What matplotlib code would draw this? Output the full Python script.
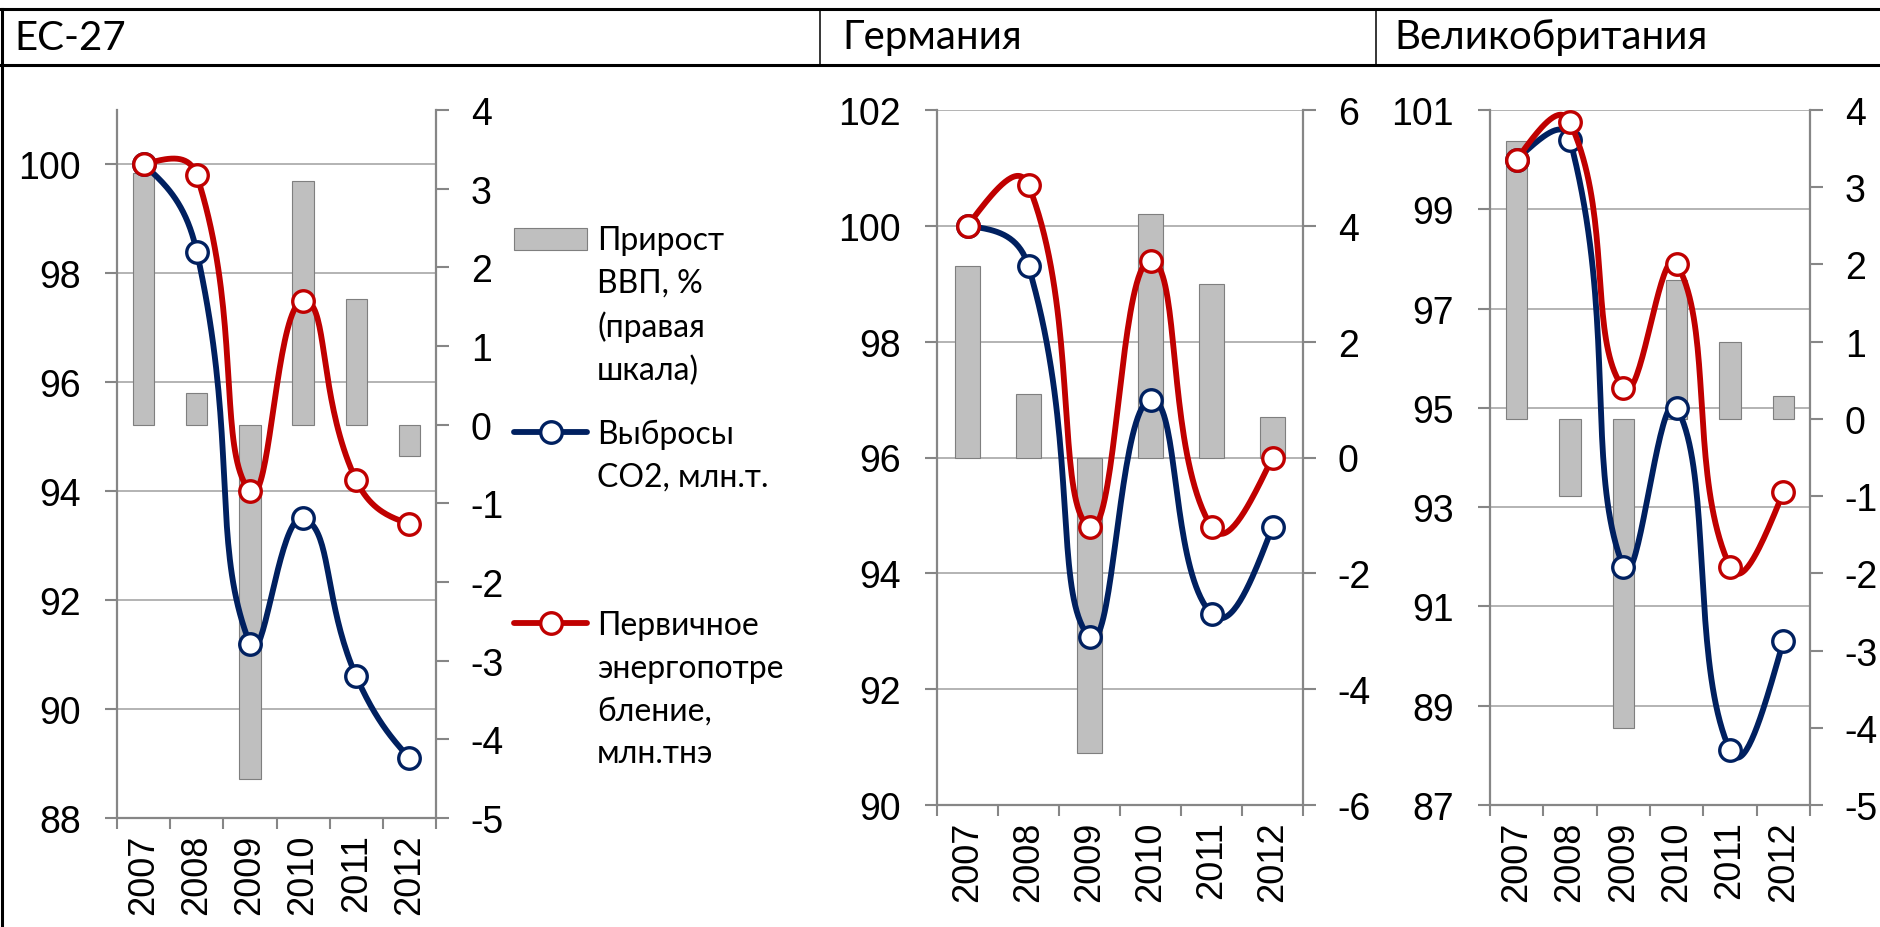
import matplotlib
matplotlib.use('Agg')
import matplotlib.pyplot as plt
import numpy as np
from matplotlib.legend_handler import HandlerPatch, HandlerLine2D
from matplotlib.lines import Line2D

plt.rcParams['font.family'] = ['Liberation Sans Narrow', 'Liberation Sans', 'DejaVu Sans']
plt.rcParams['axes.unicode_minus'] = False

# values
years = ['2007', '2008', '2009', '2010', '2011', '2012']
titles = ['ЕС-27', 'Германия', 'Великобритания']

gdp_eu = [3.2, 0.4, -4.5, 3.1, 1.6, -0.4]
co2_eu = [100.0, 98.4, 91.2, 93.5, 90.6, 89.1]
energy_eu = [100.0, 99.8, 94.0, 97.5, 94.2, 93.4]

gdp_de = [3.3, 1.1, -5.1, 4.2, 3.0, 0.7]
co2_de = [100.0, 99.3, 92.9, 97.0, 93.3, 94.8]
energy_de = [100.0, 100.7, 94.8, 99.4, 94.8, 96.0]

gdp_uk = [3.6, -1.0, -4.0, 1.8, 1.0, 0.3]
co2_uk = [100.0, 100.4, 91.8, 95.0, 88.1, 90.3]
energy_uk = [100.0, 100.75, 95.4, 97.9, 91.8, 93.3]

legend_labels = ['Прирост\nВВП, %\n(правая\nшкала)',
                 'Выбросы\nСО2, млн.т.\n\n',
                 'Первичное\nэнергопотре\nбление,\nмлн.тнэ']

# axis scales: (min, max, step)
left_scales = [(88, 101, 2), (90, 102, 2), (87, 101, 2)]
right_scales = [(-5, 4, 1), (-6, 6, 2), (-5, 4, 1)]

NAVY = '#002060'
RED = '#C00000'
BAR = '#BFBFBF'
BAR_EDGE = '#7F7F7F'
AXIS = '#868686'
GRID = '#AEAEAE'
TEXT_FONT = ['Lato', 'Open Sans', 'DejaVu Sans']
STEPS = 40
LIFT = 2.1

W, H = 1880, 928
# plot boxes in pixels: left, right, top, bottom
boxes = [(117, 436, 111, 819), (937, 1303, 111, 806), (1490, 1810, 111, 806)]
title_x = [14, 842, 1394]


def excel_smooth(ax, values, tension=0.5):
    # bezier smoothing similar to Excel's "smoothed line", done in screen space
    pts = ax.transData.transform(np.column_stack([np.arange(len(values)), values]))
    n = len(pts)
    out_c = pts.copy()
    in_c = pts.copy()
    for i in range(1, n - 1):
        d = pts[i + 1] - pts[i - 1]
        a = np.hypot(*(pts[i] - pts[i - 1]))
        b = np.hypot(*(pts[i + 1] - pts[i]))
        in_c[i] = pts[i] - d * tension * a / (a + b)
        out_c[i] = pts[i] + d * tension * b / (a + b)
    out_c[0] = (pts[0] + in_c[1]) / 2
    in_c[-1] = (pts[-1] + out_c[-2]) / 2
    t = np.linspace(0, 1, STEPS, endpoint=False)[:, None]
    segs = []
    for i in range(n - 1):
        p0, c1, c2, p1 = pts[i], out_c[i], in_c[i + 1], pts[i + 1]
        segs.append((1 - t) ** 3 * p0 + 3 * (1 - t) ** 2 * t * c1
                    + 3 * (1 - t) * t ** 2 * c2 + t ** 3 * p1)
    segs.append(pts[-1:])
    curve = ax.transData.inverted().transform(np.vstack(segs))
    return curve[:, 0], curve[:, 1]


class LiftedPatch(HandlerPatch):
    def create_artists(self, legend, orig_handle, xdescent, ydescent, width, height, fontsize, trans):
        return super().create_artists(legend, orig_handle, xdescent, ydescent - LIFT * fontsize,
                                      width, height, fontsize, trans)


class LiftedLine(HandlerLine2D):
    def create_artists(self, legend, orig_handle, xdescent, ydescent, width, height, fontsize, trans):
        return super().create_artists(legend, orig_handle, xdescent, ydescent - 2 * LIFT * fontsize,
                                      width, height, fontsize, trans)


fig = plt.figure(figsize=(W / 100, H / 100), dpi=100)

all_gdp = [gdp_eu, gdp_de, gdp_uk]
all_co2 = [co2_eu, co2_de, co2_uk]
all_energy = [energy_eu, energy_de, energy_uk]
x = np.arange(len(years))
legend_handles = None

for k in range(3):
    l, r, t, b = boxes[k]
    rect = [l / W, 1 - b / H, (r - l) / W, (b - t) / H]
    ax = fig.add_axes(rect, zorder=1)
    axb = ax.twinx()
    axb.set_zorder(2)
    axb.patch.set_visible(False)
    axl = fig.add_axes(rect, sharex=ax, sharey=ax, zorder=3)
    axl.axis('off')
    axl.patch.set_visible(False)

    lo, hi, st = left_scales[k]
    ax.set_ylim(lo, hi)
    ax.set_yticks(np.arange(lo, hi + 0.1, st))
    rlo, rhi, rst = right_scales[k]
    axb.set_ylim(rlo, rhi)
    axb.set_yticks(np.arange(rlo, rhi + 0.1, rst))

    ax.set_xlim(-0.5, len(years) - 0.5)
    ax.set_xticks(np.arange(len(years) + 1) - 0.5)
    ax.set_xticklabels([])
    ax.set_xticks(x, minor=True)
    ax.set_xticklabels(years, minor=True, rotation=90, fontsize=26)
    ax.tick_params(axis='x', which='major', direction='out', length=8, width=1.5, color=AXIS)
    ax.tick_params(axis='x', which='minor', length=0, pad=11)
    ax.tick_params(axis='y', direction='out', length=9, width=1.5, color=AXIS, pad=17, labelsize=27)
    axb.tick_params(axis='y', direction='out', length=9, width=1.5, color=AXIS, pad=16, labelsize=27)
    ax.yaxis.grid(True, color=GRID, lw=1.3)
    ax.set_axisbelow(True)

    for s in ['top', 'right']:
        ax.spines[s].set_visible(False)
    for s in ['left', 'bottom']:
        ax.spines[s].set_color(AXIS)
        ax.spines[s].set_linewidth(1.6)
    for s in ['top', 'left', 'bottom']:
        axb.spines[s].set_visible(False)
    axb.spines['right'].set_color(AXIS)
    axb.spines['right'].set_linewidth(1.6)

    bars = axb.bar(x, all_gdp[k], width=0.4, color=BAR, edgecolor=BAR_EDGE, linewidth=0.8)

    marks = list(range(0, len(years) * STEPS, STEPS))
    cx, cy = excel_smooth(axl, all_co2[k])
    co2_line, = axl.plot(cx, cy, color=NAVY, lw=4.2, marker='o', markevery=marks, ms=15.5,
                         mfc='white', mec=NAVY, mew=2.4, solid_capstyle='round', clip_on=False)
    ex, ey = excel_smooth(axl, all_energy[k])
    en_line, = axl.plot(ex, ey, color=RED, lw=4.2, marker='o', markevery=marks, ms=15.5,
                        mfc='white', mec=RED, mew=2.4, solid_capstyle='round', clip_on=False)

    fig.text(title_x[k] / W, 1 - 38 / H, titles[k], fontsize=29, family=TEXT_FONT, va='center')

    if k == 0:
        legend_handles = [bars[0], co2_line, en_line]

leg = fig.legend(legend_handles, legend_labels, loc='upper left',
                 bbox_to_anchor=(514 / W, 1 - 226 / H), frameon=False, borderpad=0,
                 borderaxespad=0, handlelength=2.3, handletextpad=0.3, labelspacing=1.05,
                 prop=dict(family=TEXT_FONT, size=23),
                 handler_map={legend_handles[0]: LiftedPatch(),
                              legend_handles[1]: LiftedLine(),
                              legend_handles[2]: LiftedLine()})
for txt in leg.get_texts():
    txt.set_linespacing(1.52)

# table-like frame around the panels
frame = dict(transform=fig.transFigure, color='black')
fig.add_artist(Line2D([0, 1], [1 - 10 / H, 1 - 10 / H], lw=2.2, **frame))
fig.add_artist(Line2D([0, 1], [1 - 66 / H, 1 - 66 / H], lw=2.2, **frame))
fig.add_artist(Line2D([1.5 / W, 1.5 / W], [0, 1 - 10 / H], lw=2.2, **frame))
for sx in [820, 1376]:
    fig.add_artist(Line2D([sx / W, sx / W], [1 - 66 / H, 1 - 10 / H], lw=1.1, **frame))

fig.savefig('out.png', dpi=100)
